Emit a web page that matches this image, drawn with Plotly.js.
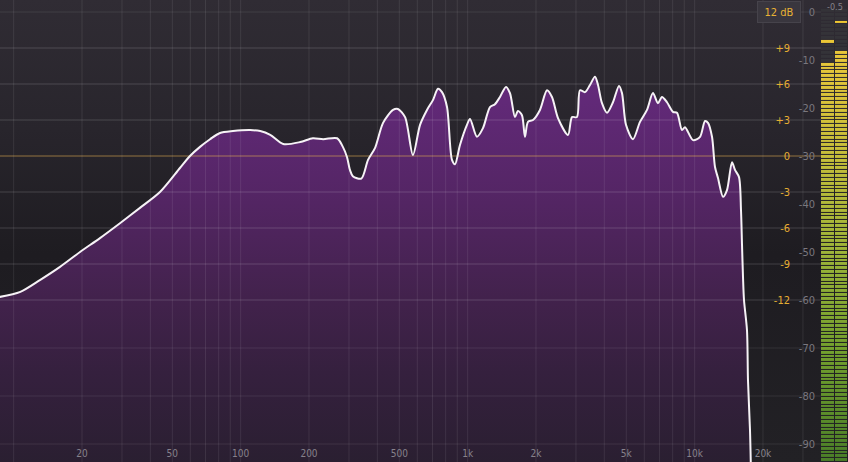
<!DOCTYPE html>
<html><head><meta charset="utf-8">
<script src="https://cdn.plot.ly/plotly-3.0.1.min.js"></script>
<style>
html,body{margin:0;padding:0;background:#1f1d22;overflow:hidden;}
#chart{width:848px;height:462px;background:linear-gradient(to bottom,#302c34 0%,#28252c 28%,#1e1c21 55%,#222125 100%);}
</style></head><body><div id="chart"></div>
<script>
// Spectrum curve (frequency in Hz, level in dB on the analyzer scale)
const freqHz = [8.6,10.7,13.1,16.0,19.6,24.0,29.4,36.0,44.1,54.0,59.8,66.2,73.3,81.1,92.5,110,122,135,154,183,208,231,266,282,294,303,312,340,364,391,424,469,493,530,574,617,662,704,740,771,811,853,880,925,993,1024,1099,1168,1254,1319,1388,1475,1536,1616,1666,1735,1788,1844,1940,2082,2236,2352,2500,2768,2882,3031,3124,3288,3458,3638,3752,3906,4110,4367,4641,4785,4983,5350,5744,6166,6552,6893,7180,7552,8026,8358,8794,9066,9834,10560,11108,11450,11924,12292,12672,13330,13882,14604,15056,15680,16002,16166,16330,16496,17004,17178,17530,17708];
const levelDb = [-59.4,-58.3,-55.8,-53.1,-50.0,-47.1,-44.0,-40.8,-37.5,-32.5,-30.0,-28.1,-26.5,-25.2,-24.8,-24.6,-24.8,-25.6,-27.5,-27.1,-26.3,-26.5,-26.3,-28.1,-30.2,-32.9,-34.2,-34.7,-30.8,-28.3,-23.1,-20.4,-20.2,-21.9,-29.8,-23.5,-20.4,-18.3,-16.0,-16.7,-19.8,-30.8,-31.7,-27.7,-23.5,-22.3,-26.0,-24.2,-19.8,-19.2,-17.7,-15.6,-16.9,-21.9,-20.6,-21.5,-26.0,-22.9,-22.5,-20.4,-16.3,-17.7,-22.1,-25.6,-21.9,-21.9,-16.3,-16.7,-15.2,-13.5,-15.2,-19.0,-21.0,-18.8,-15.4,-16.9,-23.5,-26.5,-22.9,-20.4,-16.9,-19.0,-17.7,-18.8,-20.8,-21.0,-24.6,-24.0,-26.7,-26.0,-22.7,-23.1,-26.0,-32.3,-34.6,-38.5,-37.1,-31.3,-32.9,-34.4,-41.3,-48.5,-55.2,-60.0,-66.3,-76.7,-87.1,-96.0];

// Axis ticks and grid
const gridFreqs = [10,20,30,40,50,60,70,80,90,100,200,300,400,500,600,700,800,900,1000,2000,3000,4000,5000,6000,7000,8000,9000,10000,20000,30000];
const xTickVals = [20,50,100,200,500,1000,2000,5000,10000,20000];
const xTickText = ['20','50','100','200','500','1k','2k','5k','10k','20k'];
const specTickVals = [0,-10,-20,-30,-40,-50,-60,-70,-80,-90];
const specTickText = ['0','-10','-20','-30','-40','-50','-60','-70','-80','-90'];
const specGridLevels = [0,-70,-80,-90];
const gainTickVals = [9,6,3,0,-3,-6,-9,-12];
const gainTickText = ['+9','+6','+3','0','-3','-6','-9','-12'];
const gainGridLevels = [9,6,3,-3,-6,-9,-12];
const gainRefLevel = [0];

// Output level meter (dB)
const meterChannels = ['L','R'];
const meterLevelDb = [-10.2,-8.5];
const meterPeakDb = [-6.2,-2.1];
const meterStepDb = 0.8;

const X_RANGE = [0.9398, 4.5566];
const Y_RANGE = [-93.75, 2.5];
const G_RANGE = [-25.5, 13];
const PLOT_FRAC = 821/848;
const FONT = 'DejaVu Sans Condensed, Roboto, DejaVu Sans, sans-serif';

function vLines(vals, lo, hi){ const x=[],y=[]; vals.forEach(v=>{x.push(v,v,null);y.push(lo,hi,null);}); return {x,y}; }
function hLines(vals, lo, hi){ const x=[],y=[]; vals.forEach(v=>{x.push(lo,hi,null);y.push(v,v,null);}); return {x,y}; }

const xLo = 5, xHi = 60000;
const vg = vLines(gridFreqs, Y_RANGE[0]-5, Y_RANGE[1]+5);
const sg = hLines(specGridLevels, xLo, xHi);
const gg = hLines(gainGridLevels, xLo, xHi);
const gr = hLines(gainRefLevel, xLo, xHi);

const traces = [
  {x: freqHz, y: freqHz.map(()=>Y_RANGE[0]-20), mode:'lines', line:{width:0}, hoverinfo:'skip', showlegend:false, xaxis:'x', yaxis:'y'},
  {x: freqHz, y: levelDb, mode:'lines', fill:'tonexty', line:{width:0, shape:'spline', smoothing:0.8},
   fillcolor:'#4a2455',
   fillgradient:{type:'vertical', start:Y_RANGE[0], stop:-13,
     colorscale:[[0,'#2a1f31'],[0.23,'#35203e'],[0.42,'#42224c'],[0.67,'#532563'],[1,'#652a7d']]},
   hoverinfo:'skip', showlegend:false, xaxis:'x', yaxis:'y'},
  {x: gg.x, y: gg.y, mode:'lines', line:{color:'rgba(255,255,255,0.16)', width:1}, hoverinfo:'skip', showlegend:false, xaxis:'x', yaxis:'y2'},
  {x: gr.x, y: gr.y, mode:'lines', line:{color:'rgba(222,172,80,0.6)', width:1}, hoverinfo:'skip', showlegend:false, xaxis:'x', yaxis:'y2'},
  {x: vg.x, y: vg.y, mode:'lines', line:{color:'rgba(255,255,255,0.085)', width:1}, hoverinfo:'skip', showlegend:false, xaxis:'x', yaxis:'y3'},
  {x: sg.x, y: sg.y, mode:'lines', line:{color:'rgba(255,255,255,0.09)', width:1}, hoverinfo:'skip', showlegend:false, xaxis:'x', yaxis:'y3'},
  {x: freqHz, y: levelDb, mode:'lines', line:{color:'#f6f2f6', width:2, shape:'spline', smoothing:0.8}, hoverinfo:'skip', showlegend:false, xaxis:'x', yaxis:'y3'}
];

// meter heatmap
const mY = [];
for (let c = Y_RANGE[0] + meterStepDb/2; c < 0.5; c += meterStepDb) mY.push(+c.toFixed(2));
const mZ = mY.map(c => meterChannels.map((ch,i) => {
  if (c <= meterLevelDb[i] || Math.abs(c - meterPeakDb[i]) < meterStepDb/2) return c;
  return -200;
}));
traces.push({type:'heatmap', x:[0,1], y:mY, z:mZ, zmin:-200, zmax:0, xgap:1, ygap:1, showscale:false, hoverinfo:'skip',
  colorscale:[[0,'#343338'],[0.52,'#343338'],[0.53,'#4a7e28'],[0.65,'#74a02e'],[0.75,'#9db439'],[0.85,'#c6be3a'],[0.95,'#e6c63a'],[1,'#f2c830']],
  xaxis:'x2', yaxis:'y4'});

const layout = {
  width:848, height:462,
  margin:{l:0,r:0,t:0,b:0},
  paper_bgcolor:'rgba(0,0,0,0)', plot_bgcolor:'rgba(0,0,0,0)',
  showlegend:false,
  font:{family:FONT, size:11, color:'#7e7b82'},
  xaxis:{type:'log', range:X_RANGE, domain:[0,PLOT_FRAC], showgrid:false, zeroline:false, showline:false,
    tickmode:'array', tickvals:xTickVals, ticktext:xTickText, ticks:'', ticklabelposition:'inside',
    ticklabelstandoff:0, tickfont:{family:FONT, size:10, color:'#86818b'}, anchor:'y', fixedrange:true},
  yaxis:{range:Y_RANGE, side:'right', showgrid:false, zeroline:false, showline:false,
    tickmode:'array', tickvals:specTickVals, ticktext:specTickText, ticks:'', ticklabelposition:'inside',
    ticklabelstandoff:3, tickfont:{family:FONT, size:11, color:'#7a777e'}, anchor:'x'},
  yaxis2:{range:G_RANGE, overlaying:'y', side:'right', showgrid:false, zeroline:false, showline:false,
    tickmode:'array', tickvals:gainTickVals, ticktext:gainTickText, ticks:'', ticklabelposition:'inside',
    ticklabelstandoff:28, tickfont:{family:FONT, size:11, color:'#e6ad32'}, anchor:'x'},
  yaxis3:{range:Y_RANGE, overlaying:'y', visible:false, anchor:'x'},
  xaxis2:{domain:[PLOT_FRAC,1], range:[-0.5,1.5], visible:false, anchor:'y4'},
  yaxis4:{range:Y_RANGE, domain:[0,1], visible:false, anchor:'x2'},
  annotations:[
    {xref:'paper', yref:'paper', x:779/848, y:1-12/462, xanchor:'center', yanchor:'middle', text:'12 dB', showarrow:false,
     width:36, height:14,
     font:{family:FONT, size:11, color:'#e8b234'}, bgcolor:'#39363e', bordercolor:'#46434b', borderwidth:1, borderpad:3},
    {xref:'paper', yref:'paper', x:835/848, y:1, xanchor:'center', yanchor:'top', text:'-0.5', showarrow:false,
     font:{family:FONT, size:9, color:'#85828a'}}
  ]
};

Plotly.newPlot('chart', traces, layout, {displayModeBar:false, staticPlot:true});
</script></body></html>
